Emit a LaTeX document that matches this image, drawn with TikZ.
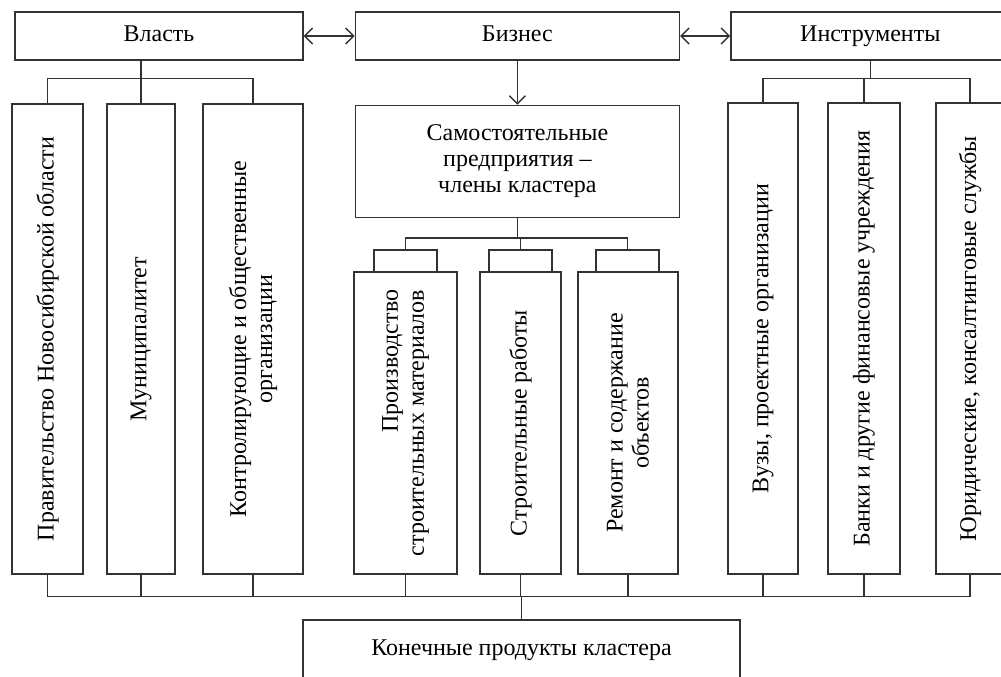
\documentclass[tikz,border=0pt]{standalone}
\usepackage{fontspec}
\setmainfont{Liberation Serif}
\usetikzlibrary{positioning,arrows.meta}

\begin{document}
\begin{tikzpicture}[x=0.5pt, y=-0.5pt, every node/.style={align=center, font=\fontsize{12}{13}\selectfont}, >={Straight Barb[length=4pt, width=8pt]}]
    % стили
    \tikzstyle{hbox} = [rectangle, draw=black!80, line width=0.7pt, minimum height=24pt, inner sep=0pt]
    \tikzstyle{one} = [hbox, text height=1.6ex, text depth=0.4ex]
    \tikzstyle{vbox} = [rectangle, draw=black!80, line width=0.7pt, rotate=90, inner sep=0pt]
    \tikzstyle{tab} = [rectangle, draw=black!80, line width=0.7pt, minimum width=31.5pt, minimum height=11pt, inner sep=0pt]
    \tikzstyle{line} = [draw=black!80, line width=0.7pt]
    \tikzstyle{arrow} = [line, <->]

    \useasboundingbox (0,0) rectangle (1001,676);
    \clip (0,0) rectangle (1001,676);

    % верхний ряд
    \node[one, minimum width=144pt] (V) at (159,36) {Власть};
    \node[one, minimum width=162pt, right=25.5pt of V] (B) {Бизнес};
    \node[one, minimum width=139.5pt, right=25pt of B] (I) {Инструменты};

    % бизнес
    \node[hbox, minimum width=162pt, minimum height=56pt, below=22pt of B] (S) {Самостоятельные\\предприятия --\\члены кластера};

    % власть
    \node[vbox, minimum width=235pt, minimum height=35.5pt] (L1) at (47.5,339) {Правительство Новосибирской области};
    \node[vbox, minimum width=235pt, minimum height=34pt] (L2) at (141,339) {Муниципалитет};
    \node[vbox, minimum width=235pt, minimum height=50pt] (L3) at (253,339) {Контролирующие и общественные\\организации};

    % предприятия
    \node[tab] (T1) at (405.5,261) {};
    \node[tab] (T2) at (520.5,261) {};
    \node[tab] (T3) at (627.5,261) {};
    \node[vbox, minimum width=151pt, minimum height=51.5pt, align=right] (M1) at (405.5,423) {Производство\\строительных материалов};
    \node[vbox, minimum width=151pt, minimum height=40.5pt] (M2) at (520.5,423) {Строительные работы};
    \node[vbox, minimum width=151pt, minimum height=50pt] (M3) at (628,423) {Ремонт и содержание\\объектов};

    % инструменты
    \node[vbox, minimum width=235.5pt, minimum height=35pt] (R1) at (763,338.5) {Вузы, проектные организации};
    \node[vbox, minimum width=235.5pt, minimum height=36pt] (R2) at (864,338.5) {Банки и другие финансовые учреждения};
    \node[vbox, minimum width=235.5pt, minimum height=34pt] (R3) at (970,338.5) {Юридические, консалтинговые службы};

    % итог
    \node[one, minimum width=218.5pt, minimum height=30pt] (K) at (521.5,650) {Конечные продукты кластера};

    % стрелки
    \draw[arrow] (V) -- (B);
    \draw[arrow] (B) -- (I);
    \draw[line, ->] (B) -- (S);

    % связи
    \foreach \n in {L1,L2,L3}
        \draw[line] (V.south -| L2.east) -- ++(0,-9pt) -| (\n.east);
    \foreach \n in {R1,R2,R3}
        \draw[line] (I.south) -- ++(0,-9pt) -| (\n.east);
    \foreach \n in {T1,T2,T3}
        \draw[line] (S.south) -- ++(0,-10pt) -| (\n.north);
    \foreach \n in {L1,L2,L3,M1,M2,M3,R1,R2,R3}
        \draw[line] (\n.west) -- ++(0,-11pt) -| (K.north);
\end{tikzpicture}
\end{document}
